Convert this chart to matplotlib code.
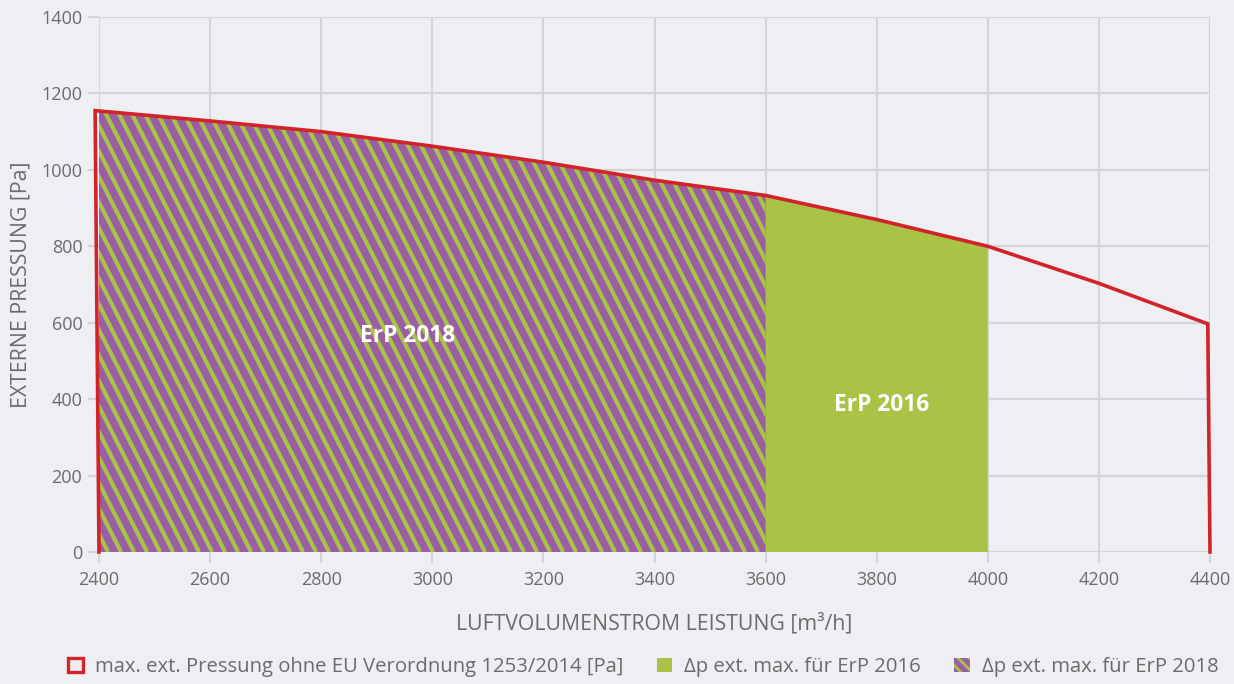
import matplotlib
matplotlib.use("Agg")
import matplotlib.pyplot as plt
import numpy as np
from matplotlib.patches import Polygon, Patch
from matplotlib.collections import LineCollection
from matplotlib.transforms import IdentityTransform

# ---- data ----
line_x = [2400, 2393, 2600, 2800, 3000, 3200, 3400, 3600, 3800, 4000, 4200, 4396, 4400]
line_y = [0, 1155, 1128, 1100, 1062, 1020, 973, 933, 870, 800, 703, 597, 0]
erp2016_end = 4000
erp2018_end = 3600
x_ticks = [2400, 2600, 2800, 3000, 3200, 3400, 3600, 3800, 4000, 4200, 4400]
y_ticks = [0, 200, 400, 600, 800, 1000, 1200, 1400]
legend_labels = ["max. ext. Pressung ohne EU Verordnung 1253/2014 [Pa]",
                 "\u0394p ext. max. f\u00fcr ErP 2016",
                 "\u0394p ext. max. f\u00fcr ErP 2018"]

RED = "#d2232a"
GREEN = "#a8c346"
PURPLE = "#9a5ea5"
BG = "#eeeff3"
GRID = "#d3d4d8"
TXT = "#6b6b6b"

plt.rcParams['font.family'] = ['Open Sans', 'DejaVu Sans']
plt.rcParams['hatch.color'] = GREEN
plt.rcParams['hatch.linewidth'] = 2.0

fig = plt.figure(figsize=(12.34, 6.84), dpi=100, facecolor=BG)
ax = fig.add_axes([99/1234, 1-552/684, (1210-99)/1234, (552-17)/684])
ax.set_facecolor(BG)
ax.set_xlim(2400, 4400)
ax.set_ylim(0, 1400)
for s in ax.spines.values():
    s.set_visible(False)
ax.set_xticks(x_ticks)
ax.set_yticks(y_ticks)
ax.grid(True, color=GRID, lw=1.6, zorder=0)
ax.set_axisbelow(True)
ax.tick_params(axis='both', colors=GRID, width=1.6, length=8, labelcolor=TXT, labelsize=13)
ax.tick_params(axis='x', pad=6)
ax.tick_params(axis='y', pad=4)


def region(xend):
    xs = [x for x in line_x[1:-1] if x <= xend]
    ys = [y for x, y in zip(line_x[1:-1], line_y[1:-1]) if x <= xend]
    if xs[-1] < xend:
        ys.append(float(np.interp(xend, line_x[1:-1], line_y[1:-1])))
        xs.append(xend)
    verts = [(line_x[0], 0)] + list(zip(xs, ys)) + [(xend, 0)]
    return verts

# ErP 2016 green region
g = Polygon(region(erp2016_end), closed=True, facecolor=GREEN, edgecolor='none', zorder=2)
ax.add_patch(g)

# ErP 2018 hatched region
pverts = region(erp2018_end)
p = Polygon(pverts, closed=True, facecolor=PURPLE, edgecolor='none', zorder=3)
ax.add_patch(p)

# stripes in display coordinates
pix = ax.transData.transform(np.array(pverts))
x0, x1 = pix[:, 0].min(), pix[:, 0].max()
y0, y1 = pix[:, 1].min(), pix[:, 1].max()
H = y1 - y0
ang = np.deg2rad(63)
dx = H / np.tan(ang)
spacing = 13.0
segs = []
k = x0 - dx - spacing
while k < x1 + spacing:
    segs.append([(k, y1), (k + dx, y0)])
    k += spacing
lc = LineCollection(segs, colors=GREEN, linewidths=3.0, transform=IdentityTransform(), zorder=4)
ax.add_collection(lc, autolim=False)
lc.set_clip_path(p)

ax.plot(line_x, line_y, color=RED, lw=2.6, zorder=6, clip_on=False, solid_joinstyle='miter')

ax.text(2955, 565, "ErP 2018", color='white', fontsize=16.4, fontweight='bold', ha='center', va='center', zorder=7)
ax.text(3808, 385, "ErP 2016", color='white', fontsize=16.4, fontweight='bold', ha='center', va='center', zorder=7)

ax.set_xlabel("LUFTVOLUMENSTROM LEISTUNG [m\u00b3/h]", color=TXT, fontsize=15.3, labelpad=17)
ax.set_ylabel("EXTERNE PRESSUNG [Pa]", color=TXT, fontsize=15.3, labelpad=7)

handles = [Patch(facecolor='none', edgecolor=RED, lw=2.4),
           Patch(facecolor=GREEN, edgecolor='none'),
           Patch(facecolor=PURPLE, edgecolor=GREEN, lw=0, hatch='\\\\\\')]
leg = fig.legend(handles, legend_labels, loc='center', bbox_to_anchor=(643/1234, 1-667/684), ncol=3,
                 frameon=False, fontsize=14.6, labelcolor=TXT, handlelength=0.75, handleheight=0.75,
                 handletextpad=0.6, columnspacing=1.65)

fig.savefig("out.png", dpi=100, facecolor=BG)
